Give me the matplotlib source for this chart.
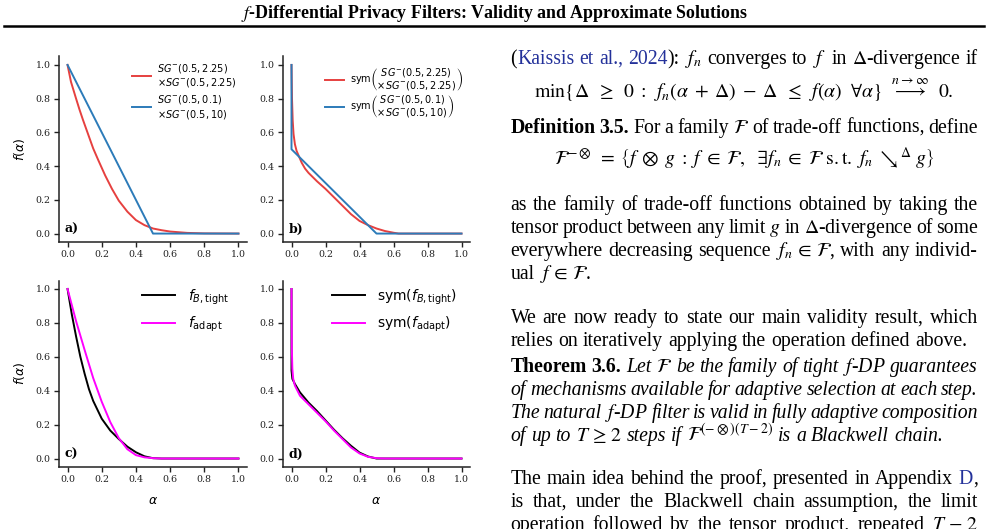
import matplotlib
matplotlib.use("Agg")
import matplotlib.pyplot as plt

# ---------------- data ----------------
ticks = [0.0, 0.2, 0.4, 0.6, 0.8, 1.0]

# panel a
a_red_x = [0.0, 0.01, 0.02, 0.035, 0.05, 0.07, 0.09, 0.12, 0.15, 0.18, 0.22, 0.26, 0.30, 0.35, 0.40, 0.45, 0.50, 0.55, 0.60, 0.70, 0.80, 1.0]
a_red_y = [1.0, 0.95, 0.90, 0.85, 0.80, 0.735, 0.675, 0.59, 0.505, 0.435, 0.345, 0.265, 0.195, 0.13, 0.08, 0.05, 0.03, 0.02, 0.012, 0.004, 0.001, 0.0]
a_blue_x = [0.0, 0.5, 1.0]
a_blue_y = [1.0, 0.0, 0.0]

# panel b
b_red_x = [0.0, 0.003, 0.007, 0.012, 0.02, 0.03, 0.045, 0.06, 0.08, 0.10, 0.15, 0.20, 0.25, 0.30, 0.35, 0.40, 0.45, 0.50, 0.55, 0.60, 0.63, 1.0]
b_red_y = [1.0, 0.80, 0.67, 0.59, 0.53, 0.49, 0.455, 0.42, 0.385, 0.36, 0.31, 0.265, 0.215, 0.165, 0.115, 0.075, 0.05, 0.03, 0.015, 0.005, 0.0, 0.0]
b_blue_x = [0.0, 0.0, 0.5, 1.0]
b_blue_y = [1.0, 0.5, 0.0, 0.0]

# panel c
c_black_x = [0.0, 0.025, 0.05, 0.075, 0.10, 0.125, 0.15, 0.20, 0.25, 0.30, 0.35, 0.40, 0.45, 0.50, 0.55, 1.0]
c_black_y = [1.0, 0.85, 0.72, 0.60, 0.50, 0.41, 0.34, 0.235, 0.165, 0.115, 0.07, 0.037, 0.013, 0.002, 0.0, 0.0]
c_mag_x = [0.0, 0.05, 0.10, 0.15, 0.20, 0.25, 0.30, 0.35, 0.40, 0.45, 0.50, 0.55, 1.0]
c_mag_y = [1.0, 0.81, 0.64, 0.475, 0.335, 0.215, 0.12, 0.055, 0.02, 0.007, 0.002, 0.0, 0.0]

# panel d
d_black_x = [0.0, 0.0, 0.005, 0.02, 0.05, 0.10, 0.15, 0.20, 0.25, 0.30, 0.35, 0.40, 0.45, 0.50, 1.0]
d_black_y = [1.0, 0.52, 0.47, 0.44, 0.39, 0.33, 0.28, 0.225, 0.17, 0.12, 0.075, 0.035, 0.012, 0.0, 0.0]
d_mag_x = [0.0, 0.002, 0.005, 0.01, 0.02, 0.03, 0.05, 0.10, 0.15, 0.20, 0.25, 0.30, 0.35, 0.40, 0.45, 0.50, 0.55, 1.0]
d_mag_y = [1.0, 0.65, 0.53, 0.47, 0.43, 0.41, 0.37, 0.32, 0.27, 0.22, 0.165, 0.115, 0.065, 0.03, 0.01, 0.002, 0.0, 0.0]

lab_a = [r"$SG^{-}(0.5,2.25)$" "\n" r"$\times SG^{-}(0.5,2.25)$",
         r"$SG^{-}(0.5,0.1)$" "\n" r"$\times SG^{-}(0.5,10)$"]
lab_b = [r"$\mathrm{sym}\genfrac{(}{)}{0}{0}{SG^{-}(0.5,2.25)}{\times SG^{-}(0.5,2.25)}$",
         r"$\mathrm{sym}\genfrac{(}{)}{0}{0}{SG^{-}(0.5,0.1)}{\times SG^{-}(0.5,10)}$"]
lab_c = [r"$f_{B,\mathrm{tight}}$", r"$f_{\mathrm{adapt}}$"]
lab_d = [r"sym($f_{B,\mathrm{tight}}$)", r"sym($f_{\mathrm{adapt}}$)"]
panel_tags = ["a)", "b)", "c)", "d)"]

RED = "#e6403f"
BLUE = "#2c7bb9"
MAG = "#ff00ff"
BLK = "#000000"

W, H = 988, 529
fig = plt.figure(figsize=(W / 100, H / 100), dpi=100)
plt.rcParams["mathtext.fontset"] = "dejavusans"


def px_axes(l, r, t, b):
    return fig.add_axes([l / W, 1 - b / H, (r - l) / W, (b - t) / H])


axa = px_axes(59, 247, 56.5, 242)
axb = px_axes(283, 470, 56.5, 242)
axc = px_axes(59, 247, 280.5, 467)
axd = px_axes(283, 470, 280.5, 467)

axa.plot(a_red_x, a_red_y, color=RED, lw=1.4, label=lab_a[0])
axa.plot(a_blue_x, a_blue_y, color=BLUE, lw=1.4, label=lab_a[1])
axb.plot(b_red_x, b_red_y, color=RED, lw=1.4, label=lab_b[0])
axb.plot(b_blue_x, b_blue_y, color=BLUE, lw=1.4, label=lab_b[1])
axc.plot(c_black_x, c_black_y, color=BLK, lw=1.4, label=lab_c[0])
axc.plot(c_mag_x, c_mag_y, color=MAG, lw=1.4, label=lab_c[1])
axd.plot(d_black_x, d_black_y, color=BLK, lw=1.4, label=lab_d[0])
axd.plot(d_mag_x, d_mag_y, color=MAG, lw=1.4, label=lab_d[1])

for ax, tag in zip([axa, axb, axc, axd], panel_tags):
    ax.set_xlim(-0.05, 1.05)
    ax.set_ylim(-0.05, 1.05)
    ax.set_xticks(ticks)
    ax.set_yticks(ticks)
    ax.set_xticklabels([f"{t:.1f}" for t in ticks], fontfamily="DejaVu Serif", fontsize=6.8)
    ax.set_yticklabels([f"{t:.1f}" for t in ticks], fontfamily="DejaVu Serif", fontsize=6.8)
    ax.tick_params(direction="out", length=3.5, width=1.0, pad=2.5, colors="#222222")
    for s in ["top", "right"]:
        ax.spines[s].set_visible(False)
    for s in ["left", "bottom"]:
        ax.spines[s].set_linewidth(1.1)
        ax.spines[s].set_color("#222222")
    ax.text(0.03, 0.035, tag, transform=ax.transAxes, fontfamily="DejaVu Serif",
            fontweight="bold", fontsize=9, ha="left", va="bottom")

axa.set_ylabel(r"$f(\alpha)$", fontsize=9, labelpad=6)
axc.set_ylabel(r"$f(\alpha)$", fontsize=9, labelpad=6)
axc.set_xlabel(r"$\alpha$", fontsize=9, labelpad=7)
axd.set_xlabel(r"$\alpha$", fontsize=9, labelpad=7)

axa.legend(loc="upper right", bbox_to_anchor=(0.99, 1.02), frameon=False, fontsize=7,
           handlelength=2.0, handletextpad=0.6, labelspacing=0.35)
axb.legend(loc="upper right", bbox_to_anchor=(1.01, 0.99), frameon=False, fontsize=7.0,
           handlelength=2.0, handletextpad=0.6, labelspacing=0.05)
axc.legend(loc="upper right", bbox_to_anchor=(0.97, 1.03), frameon=False, fontsize=10,
           handlelength=2.4, handletextpad=0.9, labelspacing=0.6)
axd.legend(loc="upper right", bbox_to_anchor=(1.0, 1.03), frameon=False, fontsize=10,
           handlelength=2.4, handletextpad=0.9, labelspacing=0.6)

# ---------------- header ----------------
SERIF = "Liberation Serif"
fig.text(494 / W, 1 - 14 / H, r"$f$-Differential Privacy Filters: Validity and Approximate Solutions",
         ha="center", va="center", fontsize=12.9, fontweight="bold", fontfamily=SERIF,
         math_fontfamily="stix")
fig.add_artist(plt.Line2D([4 / W, 984 / W], [1 - 26 / H, 1 - 26 / H], color="black", lw=1.8,
                          transform=fig.transFigure))

# ---------------- right text column ----------------
LEFT, RIGHT = 510.5, 978.0
FS = 14.2
LINK = "#23319a"
renderer = fig.canvas.get_renderer()


def tokenize(s):
    out, cur, inmath = [], "", False
    for ch in s:
        if ch == "$":
            inmath = not inmath
            cur += ch
        elif ch == " " and not inmath:
            if cur:
                out.append(cur)
            cur = ""
        else:
            cur += ch
    if cur:
        out.append(cur)
    return out


def draw_line(y, segs, justify=True, center=False):
    toks = []
    prev_space = True
    for txt, style in segs:
        parts = tokenize(txt)
        for i, p in enumerate(parts):
            attach = (i == 0 and not txt.startswith(" ") and not prev_space and len(toks) > 0)
            toks.append([p, style, attach])
        prev_space = txt.endswith(" ")
    arts = []
    for p, style, attach in toks:
        kw = dict(fontsize=FS, fontfamily=SERIF, math_fontfamily="stix", va="baseline", ha="left")
        kw.update(style)
        t = fig.text(0, 1 - y / H, p, **kw)
        arts.append((t, attach))
    widths = [t.get_window_extent(renderer).width for t, _ in arts]
    space = FS * 100 / 72 * 0.25
    ngaps = sum(1 for i, (_, a) in enumerate(arts) if i > 0 and not a)
    total = sum(widths) + ngaps * space
    if center:
        x = (LEFT + RIGHT) / 2 - total / 2
        gap = space
    elif justify and ngaps > 0:
        gap = (RIGHT - LEFT - sum(widths)) / ngaps
        x = LEFT
    else:
        gap = space
        x = LEFT
    for i, ((t, a), w) in enumerate(zip(arts, widths)):
        if i > 0 and not a:
            x += gap
        t.set_x(x / W)
        x += w


N = {}
I = {"fontstyle": "italic"}
B = {"fontweight": "bold"}
L = {"color": LINK}

draw_line(64, [("(", N), ("Kaissis et al., 2024", L), ("): $f_n$ converges to $f$ in $\\Delta$-divergence if", N)])
draw_line(98, [(r"$\min\{\Delta\;\;\geq\;\;0\;:\;\;f_n(\alpha\;+\;\Delta)\;-\;\Delta\;\;\leq\;\;f(\alpha)\ \ \forall\alpha\}\ \ \overset{n\to\infty}{\longrightarrow}\ \ 0.$", N)], center=True)
draw_line(133, [("Definition 3.5.", B), (" For a family $\\mathcal{F}$ of trade-off functions, define", N)])
draw_line(165, [(r"$\mathcal{F}^{-\otimes}\;=\;\left\{f\;\otimes\;g\;:\;f\;\in\;\mathcal{F},\ \ \exists f_n\;\in\;\mathcal{F}\ \mathrm{s.t.}\ f_n\;\searrow^{\Delta}\;g\right\}$", N)], center=True)
draw_line(210, [("as the family of trade-off functions obtained by taking the", N)])
draw_line(233, [("tensor product between any limit $g$ in $\\Delta$-divergence of some", N)])
draw_line(256, [("everywhere decreasing sequence $f_n\\,\\in\\,\\mathcal{F}$, with any individ-", N)])
draw_line(279, [("ual $f\\,\\in\\,\\mathcal{F}$.", N)], justify=False)
draw_line(323, [("We are now ready to state our main validity result, which", N)])
draw_line(346, [("relies on iteratively applying the operation defined above.", N)], justify=False)
draw_line(372, [("Theorem 3.6.", B), (" Let $\\mathcal{F}$ be the family of tight $f$-DP guarantees", I)])
draw_line(395, [("of mechanisms available for adaptive selection at each step.", I)])
draw_line(418, [("The natural $f$-DP filter is valid in fully adaptive composition", I)])
draw_line(441, [("of up to $T\\,\\geq\\,2$ steps if $\\mathcal{F}^{(-\\otimes)(T-2)}$ is a Blackwell chain.", I)], justify=False)
draw_line(484, [("The main idea behind the proof, presented in Appendix ", N), ("D", L), (",", N)])
draw_line(507, [("is that, under the Blackwell chain assumption, the limit", N)])
draw_line(530, [("operation followed by the tensor product, repeated $T\\,-\\,2$", N)])

fig.savefig("out.png", dpi=100)
